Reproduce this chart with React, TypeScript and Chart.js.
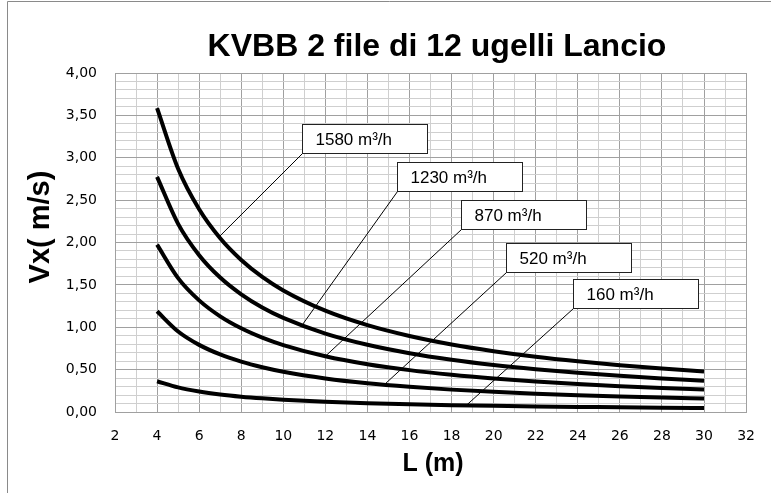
import React, { useEffect, useRef } from 'react';
import { Chart, registerables } from 'chart.js';
Chart.register(...registerables);

const chartTitle = 'KVBB 2 file di 12 ugelli Lancio';
const xTitle = 'L (m)';
const yTitle = 'Vx( m/s)';

const lengths = [4, 5, 6, 7, 8, 9, 10, 12, 14, 16, 18, 20, 22, 24, 26, 28, 30];
const v1580 = [3.585, 2.870, 2.392, 2.050, 1.794, 1.594, 1.435, 1.196, 1.025, 0.897, 0.797, 0.718, 0.652, 0.598, 0.552, 0.513, 0.478];
const v1230 = [2.775, 2.220, 1.850, 1.586, 1.388, 1.233, 1.110, 0.925, 0.793, 0.694, 0.617, 0.555, 0.505, 0.463, 0.427, 0.396, 0.370];
const v870 = [1.975, 1.580, 1.317, 1.129, 0.988, 0.878, 0.790, 0.658, 0.564, 0.494, 0.439, 0.395, 0.359, 0.329, 0.304, 0.282, 0.266];
const v520 = [1.188, 0.950, 0.792, 0.679, 0.594, 0.528, 0.475, 0.396, 0.339, 0.297, 0.264, 0.238, 0.216, 0.198, 0.183, 0.170, 0.160];
const v160 = [0.363, 0.290, 0.242, 0.207, 0.181, 0.161, 0.145, 0.121, 0.104, 0.091, 0.081, 0.073, 0.066, 0.060, 0.056, 0.050, 0.046];

const seriesNames = ['1580 m³/h', '1230 m³/h', '870 m³/h', '520 m³/h', '160 m³/h'];
const seriesValues = [v1580, v1230, v870, v520, v160];
// callout: x on the curve where the leader ends, and the box's lower-left corner (data units)
const calloutCurveX = [6.95, 10.9, 12.0, 14.8, 18.7];
const calloutBoxX = [10.9, 15.42, 18.44, 20.61, 23.76];
const calloutBoxY = [3.06, 2.61, 2.16, 1.655, 1.23];

const MAJOR = '#a0a0a0';
const MINOR = '#cfcfcf';

function interp(xs: number[], ys: number[], x: number) {
  for (let i = 0; i < xs.length - 1; i++) {
    if (x >= xs[i] && x <= xs[i + 1]) {
      const t = (x - xs[i]) / (xs[i + 1] - xs[i]);
      return ys[i] + t * (ys[i + 1] - ys[i]);
    }
  }
  return ys[ys.length - 1];
}

const decorPlugin = {
  id: 'decor',
  beforeDraw(chart: any) {
    const ctx = chart.ctx;
    ctx.save();
    ctx.fillStyle = '#fff';
    ctx.fillRect(0, 0, chart.width, chart.height);
    ctx.strokeStyle = '#8a8a8a';
    ctx.lineWidth = 1;
    ctx.beginPath();
    ctx.moveTo(7.5, chart.height);
    ctx.lineTo(7.5, 1.5);
    ctx.lineTo(chart.width, 1.5);
    ctx.stroke();
    ctx.restore();
  },
  afterDraw(chart: any) {
    const ctx = chart.ctx;
    const xs = chart.scales.x;
    const ys = chart.scales.y;
    ctx.save();
    ctx.fillStyle = '#000';
    ctx.textAlign = 'center';
    ctx.textBaseline = 'middle';
    ctx.font = 'bold 32px "Liberation Sans", Arial, sans-serif';
    ctx.fillText(chartTitle, 437, 47);
    ctx.font = 'bold 25px "Liberation Sans", Arial, sans-serif';
    ctx.fillText(xTitle, 433, 464);
    ctx.save();
    ctx.translate(41, 227);
    ctx.rotate(-Math.PI / 2);
    ctx.font = 'bold 29px "Liberation Sans", Arial, sans-serif';
    ctx.fillText(yTitle, 0, 0);
    ctx.restore();

    const bw = 125;
    const bh = 29;
    for (let i = 0; i < seriesNames.length; i++) {
      const cx = calloutCurveX[i];
      const cy = interp(lengths, seriesValues[i], cx);
      const px = xs.getPixelForValue(cx);
      const py = ys.getPixelForValue(cy);
      const bx = Math.round(xs.getPixelForValue(calloutBoxX[i])) + 0.5;
      const by = Math.round(ys.getPixelForValue(calloutBoxY[i])) + 0.5;
      ctx.strokeStyle = '#000';
      ctx.lineWidth = 1;
      ctx.beginPath();
      ctx.moveTo(px, py);
      ctx.lineTo(bx, by);
      ctx.stroke();
      ctx.fillStyle = '#fff';
      ctx.fillRect(bx, by - bh, bw, bh);
      ctx.strokeStyle = '#222';
      ctx.strokeRect(bx, by - bh, bw, bh);
      ctx.fillStyle = '#000';
      ctx.textAlign = 'left';
      ctx.textBaseline = 'middle';
      ctx.font = '17px "Liberation Sans", Arial, sans-serif';
      ctx.fillText(seriesNames[i], bx + 13, by - bh / 2 + 1);
    }
    ctx.restore();
  },
};

export default function App() {
  const ref = useRef<HTMLCanvasElement | null>(null);
  useEffect(() => {
    if (!ref.current) return;
    const chart = new Chart(ref.current, {
      type: 'line',
      data: {
        datasets: seriesValues.map((vals, i) => ({
          label: seriesNames[i],
          data: lengths.map((l, j) => ({ x: l, y: vals[j] })),
          borderColor: '#000',
          borderWidth: 4,
          pointRadius: 0,
          cubicInterpolationMode: 'monotone',
          fill: false,
        })),
      },
      options: {
        responsive: false,
        animation: false,
        events: [],
        layout: { padding: { top: 73, right: 19, left: 0, bottom: 0 } },
        plugins: { legend: { display: false }, tooltip: { enabled: false }, title: { display: false } },
        scales: {
          x: {
            type: 'linear',
            min: 2,
            max: 32,
            afterFit: (s: any) => { s.height = 81; },
            afterBuildTicks: (s: any) => {
              const t = [];
              for (let v = 2; v <= 32; v++) t.push({ value: v });
              s.ticks = t;
            },
            ticks: {
              autoSkip: false,
              maxRotation: 0,
              padding: 16,
              color: '#000',
              font: { family: '"DejaVu Sans", sans-serif', size: 14 },
              callback: (v: any) => (Math.round(v) % 2 === 0 ? String(v) : ''),
            },
            grid: {
              drawTicks: false,
              color: (c: any) => (c.tick && Math.round(c.tick.value) % 2 === 0 ? MAJOR : MINOR),
            },
            border: { color: MAJOR },
          },
          y: {
            type: 'linear',
            min: 0,
            max: 4,
            afterFit: (s: any) => { s.width = 115; },
            afterBuildTicks: (s: any) => {
              const t = [];
              for (let k = 0; k <= 40; k++) t.push({ value: k / 10 });
              s.ticks = t;
            },
            ticks: {
              autoSkip: false,
              padding: 18,
              color: '#000',
              font: { family: '"DejaVu Sans", sans-serif', size: 14 },
              callback: (v: any) => {
                const k = Math.round(Number(v) * 10);
                return k % 5 === 0 ? (k / 10).toFixed(2).replace('.', ',') : '';
              },
            },
            grid: {
              drawTicks: false,
              color: (c: any) => (c.tick && Math.round(c.tick.value * 10) % 5 === 0 ? MAJOR : MINOR),
            },
            border: { color: MAJOR },
          },
        },
      },
      plugins: [decorPlugin],
    } as any);
    return () => chart.destroy();
  }, []);
  return (
    <div style={{ position: 'fixed', left: 0, top: 0, width: 771, height: 493, background: '#fff' }}>
      <canvas ref={ref} width={771} height={493} style={{ display: 'block' }} />
    </div>
  );
}
